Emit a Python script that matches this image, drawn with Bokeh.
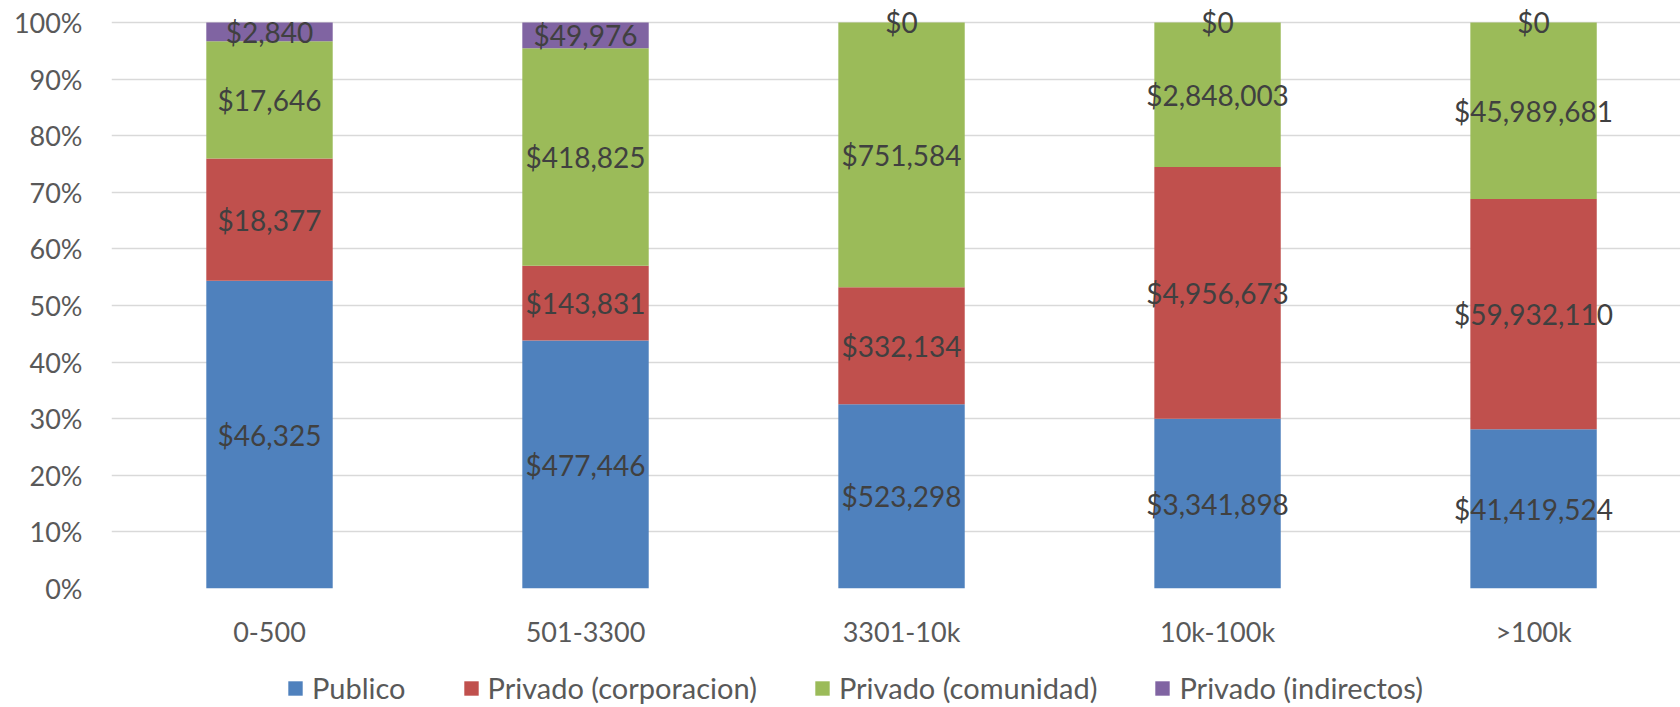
from bokeh.plotting import figure
from bokeh.layouts import column
from bokeh.models import (Range1d, FixedTicker, NumeralTickFormatter, ColumnDataSource,
                          Legend, LegendItem)
from bokeh.core.properties import value
from bokeh.embed import file_html
from bokeh.resources import INLINE

# ---- data ----
categories = ["0-500", "501-3300", "3301-10k", "10k-100k", ">100k"]
series_names = ["Publico", "Privado (corporacion)", "Privado (comunidad)", "Privado (indirectos)"]
publico = [46325, 477446, 523298, 3341898, 41419524]
corporacion = [18377, 143831, 332134, 4956673, 59932110]
comunidad = [17646, 418825, 751584, 2848003, 45989681]
indirectos = [2840, 49976, 0, 0, 0]
colors = ["#4F81BD", "#C0504D", "#9BBB59", "#8064A2"]
y_ticks = [0.0, 0.1, 0.2, 0.3, 0.4, 0.5, 0.6, 0.7, 0.8, 0.9, 1.0]

series = [publico, corporacion, comunidad, indirectos]
xs = [i + 0.5 for i in range(len(categories))]
totals = [sum(s[i] for s in series) for i in range(len(categories))]

p = figure(width=1680, height=650,
           x_range=Range1d(0, 4.965), y_range=Range1d(0, 1.0387),
           output_backend="svg", toolbar_location=None,
           min_border_left=111, min_border_top=0, min_border_right=0,
           min_border_bottom=59)
p.outline_line_color = None
p.background_fill_color = "white"
p.border_fill_color = "white"

renderers = []
label_x, label_y, label_t = [], [], []
bottoms = [0.0] * len(categories)
for s, c in zip(series, colors):
    shares = [v / t for v, t in zip(s, totals)]
    tops = [b + sh for b, sh in zip(bottoms, shares)]
    src = ColumnDataSource(dict(x=xs, bottom=bottoms, top=tops))
    r = p.vbar(x="x", bottom="bottom", top="top", width=0.4, source=src,
               fill_color=c, line_color=None)
    renderers.append(r)
    for i, v in enumerate(s):
        label_x.append(xs[i])
        label_y.append((bottoms[i] + tops[i]) / 2)
        label_t.append("${:,}".format(v))
    bottoms = tops

lsrc = ColumnDataSource(dict(x=label_x, y=label_y, t=label_t))
p.text(x="x", y="y", text="t", source=lsrc, text_align="center", text_baseline="middle",
       text_font=value("Lato"), text_font_size="28px", text_color="#404040")

# axes
p.xaxis.ticker = FixedTicker(ticks=xs)
p.xaxis.major_label_overrides = {x: c for x, c in zip(xs, categories)}
p.yaxis.ticker = FixedTicker(ticks=y_ticks)
p.yaxis.formatter = NumeralTickFormatter(format="0%")
for ax in (p.xaxis, p.yaxis):
    ax.axis_line_color = None
    ax.major_tick_line_color = None
    ax.minor_tick_line_color = None
    ax.major_tick_out = 0
    ax.major_tick_in = 0
    ax.major_label_text_font = "Lato"
    ax.major_label_text_font_size = "27px"
    ax.major_label_text_color = "#595959"
p.xaxis.major_label_standoff = 26
p.yaxis.major_label_standoff = 29

p.xgrid.grid_line_color = None
p.ygrid.grid_line_color = "#D9D9D9"
p.ygrid.grid_line_width = 1.5

# ---- legend strip below the chart ----
pl = figure(width=1680, height=55, x_range=Range1d(0, 1), y_range=Range1d(0, 1),
            output_backend="svg", toolbar_location=None,
            x_axis_type=None, y_axis_type=None,
            min_border_left=0, min_border_right=0, min_border_top=0, min_border_bottom=0)
pl.outline_line_color = None
pl.xgrid.visible = False
pl.ygrid.visible = False
legend_renderers = []
for c in colors:
    legend_renderers.append(pl.vbar(x=[-10], bottom=[0], top=[0], width=0.1,
                                    fill_color=c, line_color=None))

items = [LegendItem(label=n, renderers=[r]) for n, r in zip(series_names, legend_renderers)]
legend = Legend(items=items, orientation="horizontal", location=(175, 0),
                glyph_width=18, glyph_height=18, label_standoff=8, spacing=56,
                padding=0, margin=0, border_line_color=None, background_fill_alpha=0,
                label_text_font="Lato", label_text_font_size="29px",
                label_text_color="#595959")
pl.add_layout(legend, "center")

layout = column(p, pl, spacing=0)
open("out.html", "w").write(file_html(layout, INLINE))
